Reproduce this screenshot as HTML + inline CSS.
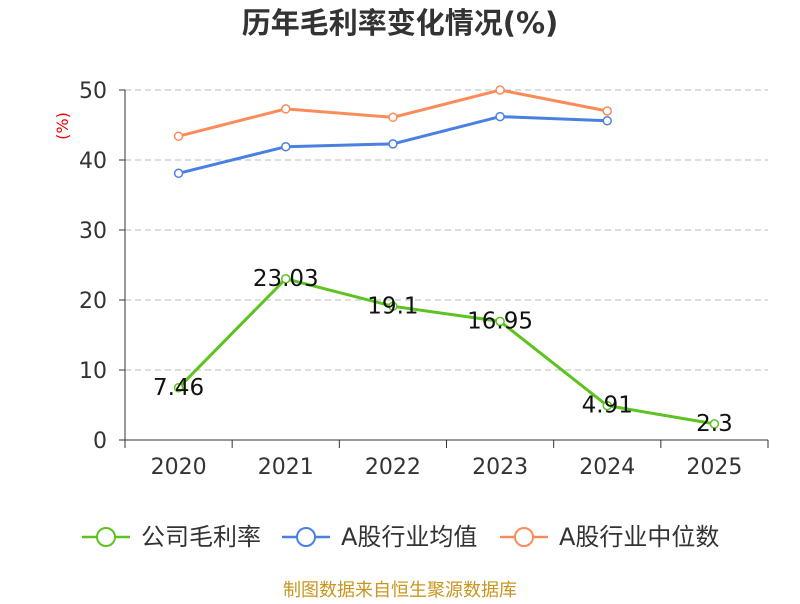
<!DOCTYPE html>
<html><head><meta charset="utf-8"><style>
body{margin:0;background:#fff;font-family:"DejaVu Sans","Noto Sans CJK SC",sans-serif}
</style></head><body>
<svg id="chart" width="800" height="600" xmlns="http://www.w3.org/2000/svg" font-family="DejaVu Sans, Noto Sans CJK SC, sans-serif">
<text x="400" y="33" text-anchor="middle" font-size="29" font-weight="bold" fill="#333">历年毛利率变化情况(%)</text>
<text transform="translate(68,126) rotate(-90)" text-anchor="middle" font-size="16" fill="#e00">(%)</text>
<g id="grid"></g><g id="axes"></g><g id="series"></g>
<g id="legend"></g>
<text x="400" y="596" text-anchor="middle" font-size="18" fill="#c8961e">制图数据来自恒生聚源数据库</text>
</svg>
<script>
const categories=["2020","2021","2022","2023","2024","2025"];
const companyValues=[7.46,23.03,19.1,16.95,4.91,2.3];
const companyLabels=["7.46","23.03","19.1","16.95","4.91","2.3"];
const industryAvg=[38.1,41.9,42.3,46.2,45.6];
const industryMedian=[43.4,47.3,46.1,50.0,47.0];
const yTicks=[0,10,20,30,40,50];
const NS="http://www.w3.org/2000/svg";
const L=125,R=768,T=90,B=440;
const bw=(R-L)/categories.length;
const xs=i=>L+bw*(i+0.5);
const ys=v=>B-(v-0)/(50-0)*(B-T);
function mk(t,a,p){const e=document.createElementNS(NS,t);for(const k in a)e.setAttribute(k,a[k]);p.appendChild(e);return e;}
const grid=document.getElementById('grid'),axes=document.getElementById('axes'),ser=document.getElementById('series'),leg=document.getElementById('legend');
yTicks.forEach(v=>{
 if(v>0){const g=mk('line',{x1:L,x2:R,y1:ys(v),y2:ys(v),stroke:'#bbb','stroke-dasharray':'6,4'},grid);
 
 }
 const tk=mk('line',{x1:L-6,x2:L,y1:ys(v),y2:ys(v),stroke:'#333'},axes);
 
 
 const t=mk('text',{x:L-18,y:ys(v)+8,'text-anchor':'end','font-size':22,fill:'#333'},axes);t.textContent=v;
 
 
});
const ya=mk('line',{x1:L,x2:L,y1:T,y2:B,stroke:'#333'},axes);


const xa=mk('line',{x1:L,x2:R,y1:B,y2:B,stroke:'#333'},axes);


for(let i=0;i<=categories.length;i++){const tk=mk('line',{x1:L+bw*i,x2:L+bw*i,y1:B,y2:B+8,stroke:'#333'},axes);
 
 }
categories.forEach((c,i)=>{const t=mk('text',{x:xs(i),y:B+34,'text-anchor':'middle','font-size':22,fill:'#333'},axes);t.textContent=c;
 
 });
function series(vals,color,name,labels){
 const g=mk('g',{},ser);
 
 
 mk('polyline',{points:vals.map((v,i)=>xs(i)+','+ys(v)).join(' '),fill:'none',stroke:color,'stroke-width':3},g);
 vals.forEach((v,i)=>{const c=mk('circle',{cx:xs(i),cy:ys(v),r:4,fill:'#fff',stroke:color,'stroke-width':1.5},g);
  
  
  if(labels){const t=mk('text',{x:xs(i),y:ys(v)+7,'text-anchor':'middle','font-size':23,fill:'#111'},g);t.textContent=labels[i];
  
  }
 });
}
series(industryMedian,'#fb8c5a','industry-median-series');
series(industryAvg,'#4a80e0','industry-avg-series');
series(companyValues,'#5cc31f','company-series',companyLabels);
const items=[['公司毛利率','#5cc31f',82],['A股行业均值','#4a80e0',282],['A股行业中位数','#fb8c5a',500]];
items.forEach(([n,c,x])=>{const g=mk('g',{},leg);
 
 
 mk('line',{x1:x,x2:x+48,y1:537,y2:537,stroke:c,'stroke-width':2.5},g);
 mk('circle',{cx:x+24,cy:537,r:9,fill:'#fff',stroke:c,'stroke-width':2},g);
 const t=mk('text',{x:x+59,y:545,'font-size':24,fill:'#333'},g);t.textContent=n;});
</script>
</body></html>
